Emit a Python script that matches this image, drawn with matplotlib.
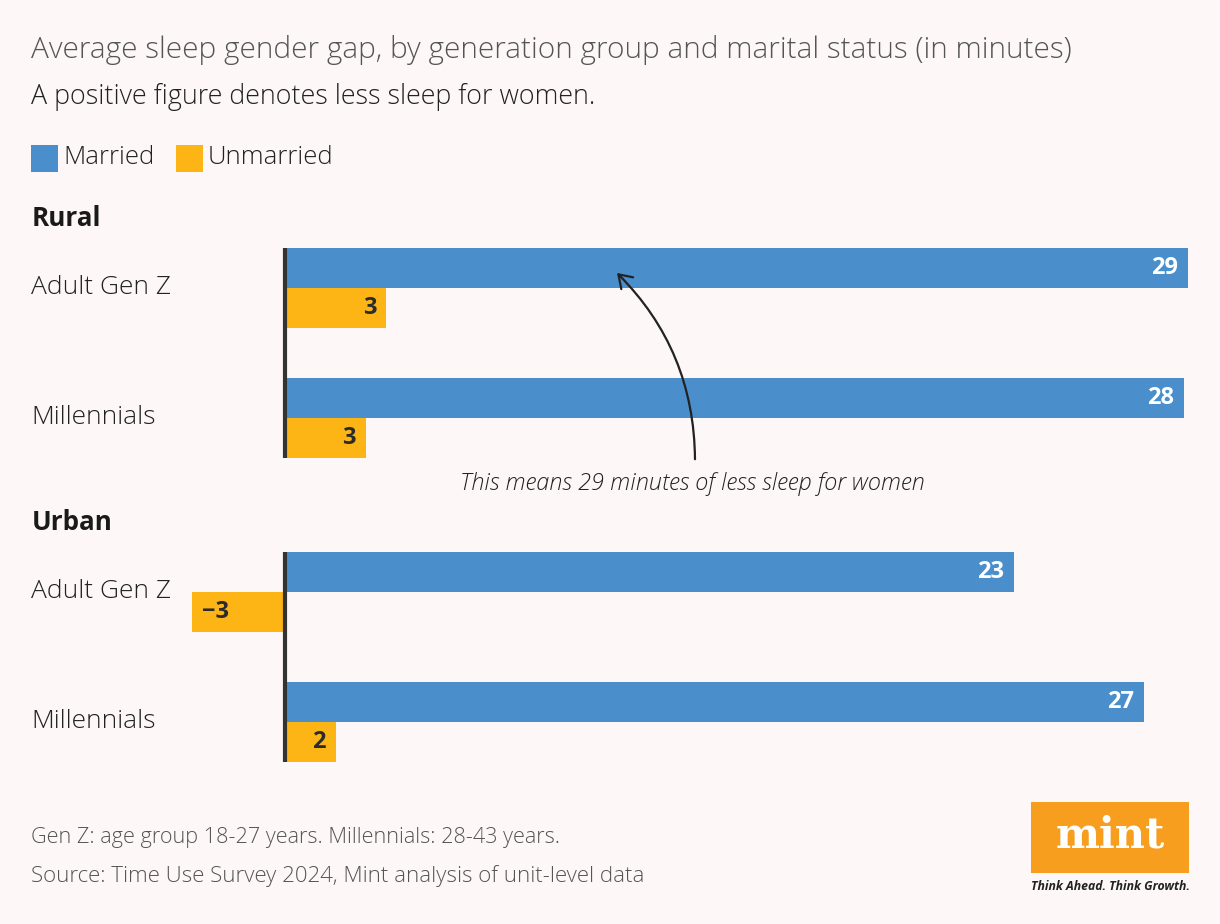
import matplotlib
matplotlib.use("Agg")
import matplotlib.pyplot as plt
from matplotlib.patches import Rectangle, FancyArrowPatch

# ---- data ----
generations = ["Adult Gen Z", "Millennials"]
series_names = ["Married", "Unmarried"]
married_rural = [28.58, 28.45]
unmarried_rural = [3.2, 2.56]
married_urban = [23.07, 27.18]
unmarried_urban = [-2.94, 1.61]
labels_married_rural = ["29", "28"]
labels_unmarried_rural = ["3", "3"]
labels_married_urban = ["23", "27"]
labels_unmarried_urban = ["\u22123", "2"]

# ---- style ----
BG = "#FDF8F7"
BLUE = "#4A8FCC"
YELLOW = "#FDB515"
DARK = "#2B2B2B"
GRAY = "#555555"
FONT = "Open Sans"

W, H = 1220, 924
fig = plt.figure(figsize=(W / 100, H / 100), dpi=100, facecolor=BG)


def fx(x):
    return x / W


def fy(y):
    return 1 - y / H


PPU = 31.6          # pixels per minute
ZERO_X = 285
AX_L, AX_R = 150, 1200
xlim = ((AX_L - ZERO_X) / PPU, (AX_R - ZERO_X) / PPU)
BAR_H = 40 / 130
pad = 10 / PPU


def panel(top, married, unmarried, lab_m, lab_u):
    bottom = top + 210
    ax = fig.add_axes([fx(AX_L), fy(bottom), (AX_R - AX_L) / W, 210 / H])
    ax.set_facecolor("none")
    ax.set_xlim(*xlim)
    ax.set_ylim(1 + BAR_H, -BAR_H)
    ys = list(range(len(generations)))
    ax.barh([y - BAR_H / 2 for y in ys], married, height=BAR_H, color=BLUE, linewidth=0)
    ax.barh([y + BAR_H / 2 for y in ys], unmarried, height=BAR_H, color=YELLOW, linewidth=0)
    ax.axvline(0, color="#333333", lw=3.0, zorder=5)
    for y, v, t in zip(ys, married, lab_m):
        ax.text(v - pad, y - BAR_H / 2, t, ha="right", va="center", color="white",
                fontsize=17, fontweight="bold", family=FONT)
    for y, v, t in zip(ys, unmarried, lab_u):
        if v >= 0:
            ax.text(v - pad, y + BAR_H / 2, t, ha="right", va="center", color=DARK,
                    fontsize=17, fontweight="bold", family=FONT)
        else:
            ax.text(v + pad, y + BAR_H / 2, t, ha="left", va="center", color=DARK,
                    fontsize=17, fontweight="bold", family=FONT)
    ax.axis("off")
    for y, g in zip(ys, generations):
        fig.text(fx(31), fy(top + 40 + 130 * y), g, ha="left", va="center",
                 fontsize=19, color="#222222", family=FONT, fontweight="light")
    return ax


# titles
fig.text(fx(31), fy(50), "Average sleep gender gap, by generation group and marital status (in minutes)",
         ha="left", va="center", fontsize=21.4, color=GRAY, family=FONT, fontweight="light")
fig.text(fx(31), fy(97), "A positive figure denotes less sleep for women.",
         ha="left", va="center", fontsize=19.4, color="#222222", family=FONT, fontweight="light")

# legend
for x0, name, col in [(31, series_names[0], BLUE), (176, series_names[1], YELLOW)]:
    fig.patches.append(Rectangle((fx(x0), fy(172)), 27 / W, 27 / H, transform=fig.transFigure,
                                 color=col, lw=0))
    fig.text(fx(x0 + 32), fy(157), name, ha="left", va="center", fontsize=18.5,
             color="#222222", family=FONT, fontweight="light")

# section headers
fig.text(fx(32), fy(219), "Rural", ha="left", va="center", fontsize=18.7, fontweight="bold",
         color="#1A1A1A", family=FONT)
fig.text(fx(32), fy(523), "Urban", ha="left", va="center", fontsize=18.7, fontweight="bold",
         color="#1A1A1A", family=FONT)

panel(248, married_rural, unmarried_rural, labels_married_rural, labels_unmarried_rural)
panel(552, married_urban, unmarried_urban, labels_married_urban, labels_unmarried_urban)

# annotation
fig.text(fx(692), fy(484), "This means 29 minutes of less sleep for women", ha="center", va="center",
         fontsize=16.9, style="italic", color="#222222", family=FONT, fontweight="light")
arrow = FancyArrowPatch((fx(695), fy(462)), (fx(615), fy(271)), transform=fig.transFigure,
                        connectionstyle="arc3,rad=0.21", arrowstyle="->,head_length=0.45,head_width=0.3",
                        mutation_scale=20, lw=1.6, color="#222222")
fig.patches.append(arrow)

# footer
fig.text(fx(31), fy(837), "Gen Z: age group 18-27 years. Millennials: 28-43 years.", ha="left", va="center",
         fontsize=15.6, color=GRAY, family=FONT, fontweight="light")
fig.text(fx(31), fy(876), "Source: Time Use Survey 2024, Mint analysis of unit-level data", ha="left",
         va="center", fontsize=16, color=GRAY, family=FONT, fontweight="light")

# logo
fig.patches.append(Rectangle((fx(1031), fy(873)), 158 / W, 71 / H, transform=fig.transFigure,
                             color="#F89E1F", lw=0))
fig.text(fx(1110), fy(836), "mint", ha="center", va="center", fontsize=30, fontweight="bold",
         color="white", family="DejaVu Serif")
fig.text(fx(1110), fy(886), "Think Ahead. Think Growth.", ha="center", va="center", fontsize=8.8,
         fontweight="bold", style="italic", color="#222222", family=FONT)

fig.savefig("out.png", dpi=100, facecolor=BG)
